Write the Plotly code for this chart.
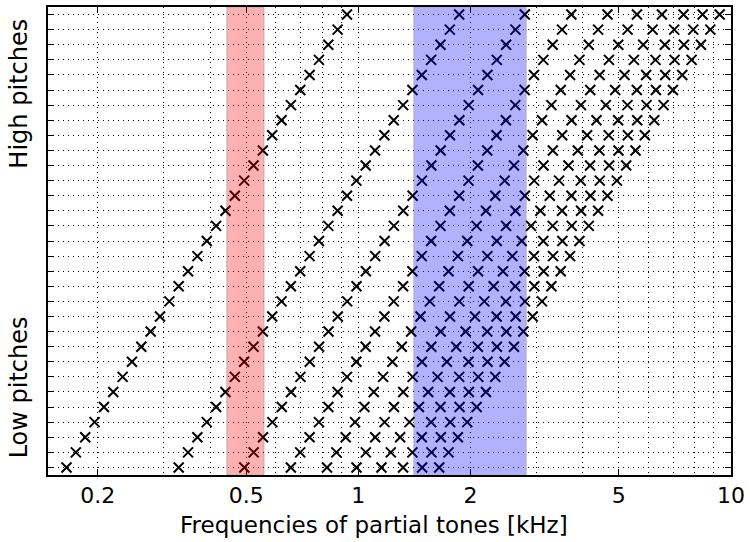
import numpy as np
import plotly.graph_objects as go

# Fundamental frequencies of the 31 pitches (kHz), E3 .. A#5 in semitone steps
fundamentals_khz = [0.1648, 0.1746, 0.1850, 0.1960, 0.2077, 0.2200, 0.2331, 0.2469,
                    0.2616, 0.2772, 0.2937, 0.3111, 0.3296, 0.3492, 0.3700, 0.3920,
                    0.4153, 0.4400, 0.4662, 0.4939, 0.5233, 0.5544, 0.5873, 0.6223,
                    0.6593, 0.6985, 0.7400, 0.7840, 0.8306, 0.8800, 0.9323]
harmonic_numbers = [1, 2, 3, 4, 5, 6, 7, 8, 9, 10]
red_band_khz = [0.444, 0.558]
blue_band_khz = [1.41, 2.82]
major_ticks = [0.2, 0.5, 1, 2, 5, 10]
major_labels = ["0.2", "0.5", "1", "2", "5", "10"]
minor_grid = [0.2, 0.3, 0.4, 0.5, 0.6, 0.7, 0.8, 0.9, 1, 2, 3, 4, 5, 6, 7, 8, 9, 10]
x_label = "Frequencies of partial tones [kHz]"
y_label_high = "High pitches"
y_label_low = "Low pitches"

xs, ys = [], []
for row, f0 in enumerate(fundamentals_khz):
    for h in harmonic_numbers:
        xs.append(f0 * h)
        ys.append(row)

FONT = "DejaVu Sans"
GRID_DASH = "1px,4px"
fig = go.Figure()
fig.add_trace(go.Scatter(
    x=xs, y=ys, mode="markers",
    marker=dict(symbol="x-thin", size=10, color="black",
                line=dict(color="black", width=2)),
    showlegend=False, hoverinfo="skip"))

for band, col in [(red_band_khz, "rgb(255,0,0)"), (blue_band_khz, "rgb(0,0,255)")]:
    fig.add_shape(type="rect", xref="x", yref="paper", x0=band[0], x1=band[1],
                  y0=0, y1=1, fillcolor=col, opacity=0.3, layer="above",
                  line=dict(color="black", width=1))

nrows = len(fundamentals_khz)
fig.update_layout(
    width=750, height=542, margin=dict(l=48, r=17, t=5, b=67),
    paper_bgcolor="white", plot_bgcolor="white",
    font=dict(family=FONT, size=22, color="black"),
    xaxis=dict(type="log", range=[np.log10(0.147), 1.0],
               tickmode="array", tickvals=major_ticks, ticktext=major_labels,
               ticks="inside", ticklen=6, tickwidth=1, tickcolor="black",
               showline=True, linecolor="black", linewidth=1.5, mirror="ticks",
               showgrid=True, gridcolor="black", gridwidth=1, griddash=GRID_DASH,
               minor=dict(tickmode="array", tickvals=minor_grid, showgrid=True,
                          gridcolor="black", gridwidth=1, griddash=GRID_DASH, ticks=""),
               tickfont=dict(size=22), zeroline=False),
    yaxis=dict(range=[-0.5, nrows - 0.5], tickmode="array",
               tickvals=list(range(nrows)), ticktext=[""] * nrows,
               ticks="inside", ticklen=6, tickwidth=1, tickcolor="black",
               showline=True, linecolor="black", linewidth=1.5, mirror="ticks",
               showgrid=True, gridcolor="black", gridwidth=1, griddash=GRID_DASH,
               zeroline=False),
    annotations=[
        dict(text=x_label, xref="paper", yref="paper", x=(375 - 48) / 685, y=-(525 - 475) / 470,
             xanchor="center", yanchor="middle", showarrow=False, font=dict(size=23)),
        dict(text=y_label_high, xref="paper", yref="paper", x=0, xshift=-29, y=1 - (92 - 5) / 470,
             xanchor="center", yanchor="middle", textangle=-90, showarrow=False, font=dict(size=24)),
        dict(text=y_label_low, xref="paper", yref="paper", x=0, xshift=-29, y=1 - (387 - 5) / 470,
             xanchor="center", yanchor="middle", textangle=-90, showarrow=False, font=dict(size=24)),
    ],
)
fig.write_html("out.html")
